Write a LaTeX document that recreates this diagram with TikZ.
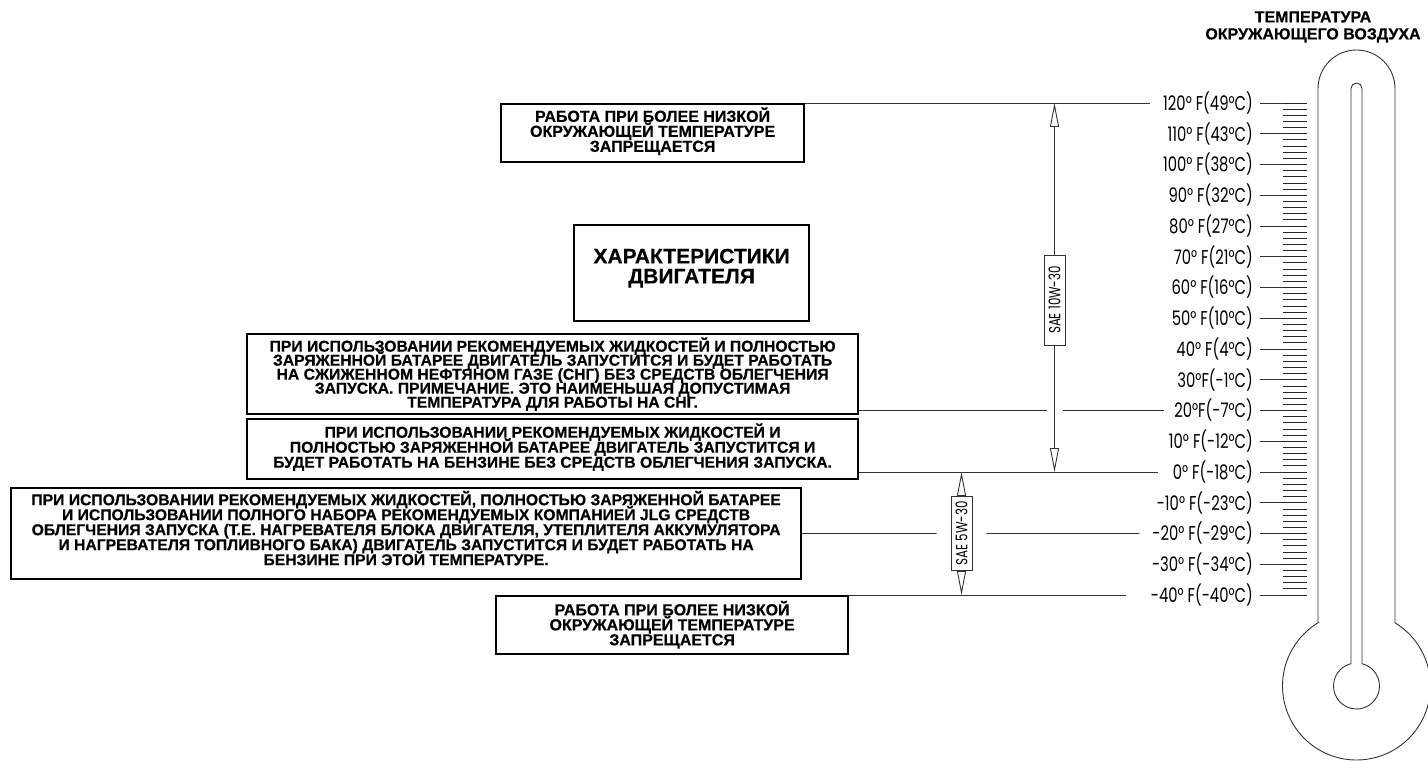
\documentclass[tikz,border=0pt]{standalone}
\usepackage{fontspec}
\setmainfont{Liberation Sans}
\newfontfamily\notefont{Liberation Sans}[BoldFeatures={FakeBold=0.4}]
\newfontfamily\scalefont{Poppins}[FakeStretch=0.74]
\newcommand\noteskip{\setlength{\lineskiplimit}{-20pt}}
\usetikzlibrary{positioning, arrows.meta, calc}

\begin{document}
\begin{tikzpicture}[x=1pt, y=-1pt,
  note/.style={draw, line width=2.2pt, anchor=north west, align=center, inner sep=0pt,
    font=\notefont\bfseries\fontsize{15.7}{15}\selectfont\noteskip},
  lead/.style={draw=black!80, line width=0.9pt},
  deg/.style={anchor=east, inner sep=0pt, font=\scalefont\fontsize{20}{20}\selectfont},
  sae/.style={draw=black!80, line width=0.8pt, rotate=90, inner sep=0pt, minimum height=21pt,
    font=\scalefont\fontsize{16}{16}\selectfont},
  dimarrow/.style={lead, -{Triangle[open, length=24pt, width=9pt]}}]
\useasboundingbox (0,0) rectangle (1428,762);

% note boxes
\node[note, minimum width=303pt, minimum height=58pt,
  font=\notefont\bfseries\fontsize{16}{15}\selectfont\noteskip] (hot) at (500,103)
  {РАБОТА ПРИ БОЛЕЕ НИЗКОЙ\\ОКРУЖАЮЩЕЙ ТЕМПЕРАТУРЕ\\ЗАПРЕЩАЕТСЯ\\[-8pt]\mbox{}};
\node[note, minimum width=235pt, minimum height=96pt,
  font=\notefont\bfseries\fontsize{21}{20}\selectfont\noteskip] (spec) at (573,224)
  {ХАРАКТЕРИСТИКИ\\ДВИГАТЕЛЯ\\[-6pt]\mbox{}};
\node[note, minimum width=611pt, minimum height=80pt,
  font=\notefont\bfseries\fontsize{15.7}{14}\selectfont\noteskip] (lpg) at (246,333)
  {ПРИ ИСПОЛЬЗОВАНИИ РЕКОМЕНДУЕМЫХ ЖИДКОСТЕЙ И ПОЛНОСТЬЮ\\
   ЗАРЯЖЕННОЙ БАТАРЕЕ ДВИГАТЕЛЬ ЗАПУСТИТСЯ И БУДЕТ РАБОТАТЬ\\
   НА СЖИЖЕННОМ НЕФТЯНОМ ГАЗЕ (СНГ) БЕЗ СРЕДСТВ ОБЛЕГЧЕНИЯ\\
   ЗАПУСКА. ПРИМЕЧАНИЕ. ЭТО НАИМЕНЬШАЯ ДОПУСТИМАЯ\\
   ТЕМПЕРАТУРА ДЛЯ РАБОТЫ НА СНГ.};
\node[note, minimum width=611pt, minimum height=60pt] (petrol) at (246,418)
  {ПРИ ИСПОЛЬЗОВАНИИ РЕКОМЕНДУЕМЫХ ЖИДКОСТЕЙ И\\
   ПОЛНОСТЬЮ ЗАРЯЖЕННОЙ БАТАРЕЕ ДВИГАТЕЛЬ ЗАПУСТИТСЯ И\\
   БУДЕТ РАБОТАТЬ НА БЕНЗИНЕ БЕЗ СРЕДСТВ ОБЛЕГЧЕНИЯ ЗАПУСКА.\\[-8pt]\mbox{}};
\node[note, minimum width=790pt, minimum height=91pt] (aids) at (10,487)
  {ПРИ ИСПОЛЬЗОВАНИИ РЕКОМЕНДУЕМЫХ ЖИДКОСТЕЙ, ПОЛНОСТЬЮ ЗАРЯЖЕННОЙ БАТАРЕЕ\\
   И ИСПОЛЬЗОВАНИИ ПОЛНОГО НАБОРА РЕКОМЕНДУЕМЫХ КОМПАНИЕЙ JLG СРЕДСТВ\\
   ОБЛЕГЧЕНИЯ ЗАПУСКА (Т.Е. НАГРЕВАТЕЛЯ БЛОКА ДВИГАТЕЛЯ, УТЕПЛИТЕЛЯ АККУМУЛЯТОРА\\
   И НАГРЕВАТЕЛЯ ТОПЛИВНОГО БАКА) ДВИГАТЕЛЬ ЗАПУСТИТСЯ И БУДЕТ РАБОТАТЬ НА\\
   БЕНЗИНЕ ПРИ ЭТОЙ ТЕМПЕРАТУРЕ.\\[-4pt]\mbox{}};
\node[note, minimum width=352pt, minimum height=58pt,
  font=\notefont\bfseries\fontsize{16}{15}\selectfont\noteskip] (cold) at (495,595)
  {РАБОТА ПРИ БОЛЕЕ НИЗКОЙ\\ОКРУЖАЮЩЕЙ ТЕМПЕРАТУРЕ\\ЗАПРЕЩАЕТСЯ\\[-11pt]\mbox{}};

% temperature scale
\node[font=\notefont\bfseries\fontsize{16}{17}\selectfont, align=center] (title) at (1313,27)
  {ТЕМПЕРАТУРА\\ОКРУЖАЮЩЕГО ВОЗДУХА};
\foreach \f/\lab in {120/{120° F(49°C)}, 110/{110° F(43°C)}, 100/{100° F(38°C)},
    90/{90° F(32°C)}, 80/{80° F(27°C)}, 70/{70° F(21°C)}, 60/{60° F(16°C)},
    50/{50° F(10°C)}, 40/{40° F(4°C)}, 30/{30°F(-1°C)}, 20/{20°F(-7°C)},
    10/{10° F(-12°C)}, 0/{0° F(-18°C)}, -10/{-10° F(-23°C)}, -20/{-20° F(-29°C)},
    -30/{-30° F(-34°C)}, -40/{-40° F(-40°C)}} {
  \pgfmathsetmacro\yy{103+(120-\f)*3.075}
  \node[deg] (t\f) at (1253,\yy) {\lab};
  \draw[lead] ([xshift=7pt]t\f.east) -- (1307,\yy);
}
\foreach \k in {0,...,80}
  \draw[black!85, line width=0.8pt] (1283,103+\k*6.15) -- (1307,103+\k*6.15);

% thermometer
\draw[black!80, line width=0.9pt] (1318,622.8) -- (1318,88.5)
  arc[start angle=180, end angle=360, radius=38.5] -- (1395,622.8)
  arc[start angle=-58.65, end angle=238.65, radius=74] -- cycle;
\draw[black!80, line width=0.9pt] (1351,663.7) -- (1351,88.5)
  arc[start angle=180, end angle=360, radius=5.5] -- (1362,663.7)
  arc[start angle=-76.16, end angle=256.16, radius=23] -- cycle;

% oil grades
\node[sae, minimum width=90pt] (sae10) at (1054.5,300) {SAE 10W-30};
\node[sae, minimum width=74pt] (sae5) at (961.5,533.5) {SAE 5W-30};
\draw[dimarrow] (sae10.east) -- (sae10.east |- t120);
\draw[dimarrow] (sae10.west) -- (sae10.west |- t0);
\draw[dimarrow] (sae5.east) -- (sae5.east |- t0);
\draw[dimarrow] (sae5.west) -- (sae5.west |- t-40);

% leader lines
\draw[lead, shorten >=13pt] (hot.north east) -- (hot.north east -| t120.west);
\draw[lead] (lpg.east |- t20) -- ([xshift=-8pt]sae10.center |- t20);
\draw[lead, shorten >=10pt] ([xshift=8pt]sae10.center |- t20) -- (t20.west);
\draw[lead, shorten >=15pt] (petrol.east |- t0) -- (t0.west);
\draw[lead, shorten >=14pt] (aids.east |- t-20) -- (sae5);
\draw[lead, shorten <=14pt, shorten >=13pt] (sae5) -- (t-20.west);
\draw[lead, shorten >=25pt] (cold.north east) -- (cold.north east -| t-40.west);
\end{tikzpicture}
\end{document}
